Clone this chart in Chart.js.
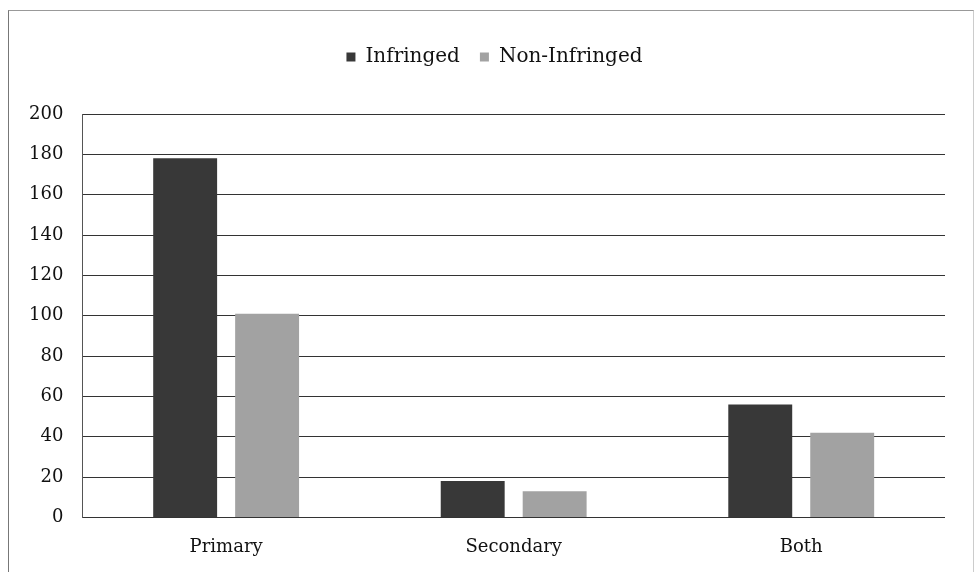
<!DOCTYPE html>
<html>
<head>
<meta charset="utf-8">
<script src="https://cdn.jsdelivr.net/npm/chart.js@4"></script>
<style>
  body { margin: 0; background: #fff; }
  #wrap { position: relative; width: 975px; height: 572px; }
  #frame {
    position: absolute; left: 8px; top: 10px; width: 964px; height: 562px;
    border-left: 1px solid #777; border-top: 1px solid #999; border-right: 1px solid #ccc;
  }
  canvas { position: absolute; left: 0; top: 0; }
</style>
</head>
<body>
<div id="wrap">
  <div id="frame"></div>
  <canvas id="chart" width="975" height="572"></canvas>
</div>
<script>
// Categories and series
const categories = ['Primary', 'Secondary', 'Both'];
const infringed = [178, 18, 56];
const nonInfringed = [101, 13, 42];
const yTicks = [0, 20, 40, 60, 80, 100, 120, 140, 160, 180, 200];

const serif = "'DejaVu Serif', 'Liberation Serif', serif";

// Extra space between the legend and the plot area, and nudge it right a bit
const legendTweak = {
    id: 'legendTweak',
    beforeInit(chart) {
        const fit = chart.legend.fit;
        chart.legend.fit = function() {
            fit.bind(chart.legend)();
            this.height += 37;
        };
    },
    afterLayout(chart) {
        chart.legend.left += 17;
        chart.legend.right += 17;
    }
};

const ctx = document.getElementById('chart').getContext('2d');
const chart = new Chart(ctx, {
    type: 'bar',
    data: {
        labels: categories,
        datasets: [{
            label: 'Infringed',
            data: infringed,
            backgroundColor: '#383838',
            borderWidth: 0
        }, {
            label: 'Non-Infringed',
            data: nonInfringed,
            backgroundColor: '#a2a2a2',
            borderWidth: 0
        }]
    },
    plugins: [legendTweak],
    options: {
        responsive: false,
        animation: false,
        layout: {
            padding: { left: 10, right: 30, top: 27, bottom: 3 }
        },
        datasets: {
            bar: {
                categoryPercentage: 0.57,
                barPercentage: 0.78
            }
        },
        plugins: {
            legend: {
                display: true,
                position: 'top',
                labels: {
                    color: '#111',
                    boxWidth: 9,
                    boxHeight: 9,
                    padding: 20,
                    font: { family: serif, size: 20 }
                }
            },
            tooltip: { enabled: false }
        },
        scales: {
            x: {
                grid: { display: false },
                border: { display: false },
                ticks: {
                    color: '#111',
                    padding: 11,
                    font: { family: serif, size: 18 }
                }
            },
            y: {
                min: 0,
                max: 200,
                afterBuildTicks: function(axis) {
                    axis.ticks = yTicks.map(v => ({ value: v }));
                },
                grid: {
                    color: '#333',
                    lineWidth: 1,
                    drawTicks: false
                },
                border: { display: true, color: '#555', width: 1 },
                ticks: {
                    color: '#111',
                    padding: 19,
                    font: { family: serif, size: 18 }
                }
            }
        }
    }
});
</script>
</body>
</html>
